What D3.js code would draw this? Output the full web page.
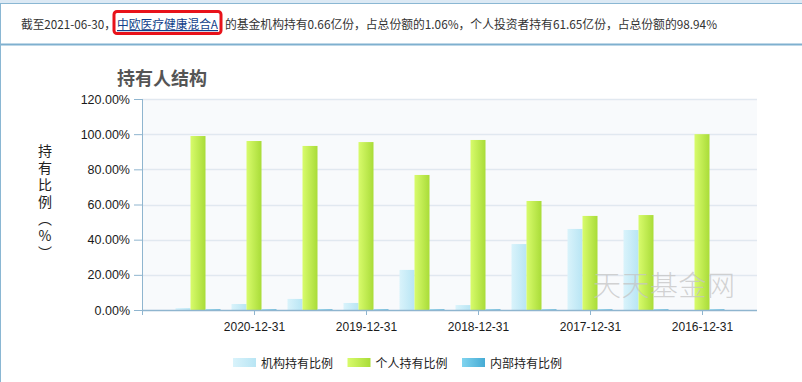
<!DOCTYPE html>
<html><head><meta charset="utf-8">
<script src="https://cdn.jsdelivr.net/npm/d3@7/dist/d3.min.js"></script>
<style>body{margin:0;background:#fff}svg{display:block}</style>
</head><body><svg id="c" width="802" height="382"></svg>
<script>
const dates = ["2021-06-30","2020-12-31","2020-06-30","2019-12-31","2019-06-30","2018-12-31","2018-06-30","2017-12-31","2017-06-30","2016-12-31"];
const tickLabels = ["2020-12-31","2019-12-31","2018-12-31","2017-12-31","2016-12-31"];
const institutional = [1.06, 3.4, 6.3, 4.0, 22.8, 2.8, 37.5, 46.1, 45.5, 0];
const individual = [98.94, 96.1, 93.3, 95.5, 76.8, 96.7, 62.0, 53.5, 54.0, 100];
const internal = [0.4, 0.4, 0.4, 0.4, 0.4, 0.4, 0.4, 0.4, 0.4, 0.4];
const seriesNames = ["机构持有比例", "个人持有比例", "内部持有比例"];
const yTicks = [0, 20, 40, 60, 80, 100, 120];
const headerParts = ["截至2021-06-30，", "中欧医疗健康混合A", "的基金机构持有0.66亿份，占总份额的1.06%，个人投资者持有61.65亿份，占总份额的98.94%"];
const chartTitle = "持有人结构";
const yTitle = "持有比例（%）";
const watermark = "天天基金网";

const svg = d3.select("#c");
const cjk = "'Noto Sans CJK SC', sans-serif";
const latin = "'Liberation Sans', Arial, sans-serif";

// gradients
const defs = svg.append("defs");
const grads = [["g0","#d9f3fb","#b8e5f4"],["g1","#d8fb6c","#a9dc38"],["g2","#80d4ef","#46abd4"]];
grads.forEach(([id,a,b])=>{
  const g = defs.append("linearGradient").attr("id",id).attr("x1","0").attr("x2","1").attr("y1","0").attr("y2","0");
  g.append("stop").attr("offset","0").attr("stop-color",a);
  g.append("stop").attr("offset","1").attr("stop-color",b);
});

// header box
svg.append("rect").attr("x",0).attr("y",0).attr("width",802).attr("height",3.5).attr("fill","#dce9f4");
svg.append("line").attr("x1",0).attr("x2",802).attr("y1",3.5).attr("y2",3.5).attr("stroke","#8ab7d3").attr("stroke-width",1);
svg.append("line").attr("x1",0).attr("x2",802).attr("y1",44.5).attr("y2",44.5).attr("stroke","#7fb0cf").attr("stroke-width",2);
svg.append("line").attr("x1",0.5).attr("x2",0.5).attr("y1",3).attr("y2",382).attr("stroke","#8ab7d3").attr("stroke-width",1);

const hdr = svg.append("g").attr("font-family",cjk).attr("font-size",12).attr("fill","#333");
hdr.append("text").attr("x",21).attr("y",29).attr("textLength",95).attr("lengthAdjust","spacingAndGlyphs").text(headerParts[0]);
hdr.append("text").attr("x",117).attr("y",29).attr("fill","#123f8a").attr("text-decoration","underline")
   .attr("textLength",101).attr("lengthAdjust","spacingAndGlyphs").text(headerParts[1]);
hdr.append("text").attr("x",225).attr("y",29).attr("textLength",492).attr("lengthAdjust","spacingAndGlyphs").text(headerParts[2]);
svg.append("rect").attr("x",114).attr("y",11.5).attr("width",107).attr("height",22).attr("rx",3)
   .attr("fill","none").attr("stroke","#e8121a").attr("stroke-width",3);

// scales
const x = d3.scalePoint().domain(dates).range([142,758]).padding(1);
const y = d3.scaleLinear().domain([0,120]).range([310,99]);
const sub = d3.scaleBand().domain([0,1,2]).range([-22.5,22.5]);

// plot bg
svg.append("rect").attr("x",x.range()[0]).attr("y",y(120)).attr("width",x.range()[1]-x.range()[0]-1).attr("height",y(0)-y(120)).attr("fill","#f8fafc");

// grid
svg.append("g").selectAll("line").data(yTicks.filter(d=>d>0)).join("line")
  .attr("x1",x.range()[0]).attr("x2",x.range()[1]-1)
  .attr("y1",d=>Math.round(y(d))+0.5).attr("y2",d=>Math.round(y(d))+0.5)
  .attr("stroke","#e1e8f0").attr("stroke-width",1.5);

// bars
const series = [institutional, individual, internal];
series.forEach((vals,si)=>{
  svg.append("g").selectAll("rect").data(dates).join("rect")
    .attr("x",(d)=>x(d)+sub(si)).attr("width",sub.bandwidth())
    .attr("y",(d,i)=>y(vals[i])).attr("height",(d,i)=>y(0)-y(vals[i]))
    .attr("fill",`url(#g${si})`);
});

// watermark (on top of bars)
svg.append("text").attr("x",593).attr("y",296).attr("font-family","'Noto Sans CJK SC', serif").attr("font-weight",300)
  .attr("font-size",28).attr("fill","#c4c4c4").attr("fill-opacity",0.75).attr("textLength",142).text(watermark);

// y axis
const yAxis = svg.append("g").attr("transform",`translate(${x.range()[0]},0)`)
  .call(d3.axisLeft(y).tickValues(yTicks).tickFormat(d=>d.toFixed(2)+"%").tickSize(8).tickPadding(4));
yAxis.selectAll("text").attr("font-family",latin).attr("font-size",12.5).attr("fill","#1a1a1a");
yAxis.selectAll("line").attr("stroke","#8fb5cf");
yAxis.select(".domain").attr("stroke","#8fb5cf").attr("d",`M0.5,${y(120)}V${y(0)}`);

// x axis
const xAxis = svg.append("g").attr("transform",`translate(0,${y(0)})`)
  .call(d3.axisBottom(x).tickValues(tickLabels).tickSize(5).tickPadding(7));
xAxis.selectAll("text").attr("font-family",latin).attr("font-size",12).attr("fill","#1a1a1a");
xAxis.selectAll("line").attr("stroke","#8fb5cf");
xAxis.select(".domain").attr("stroke","#8fb5cf").attr("stroke-width",1.5).attr("d",`M${x.range()[0]},0.5H${x.range()[1]-1}`);
xAxis.append("line").attr("x1",x.range()[0]+0.5).attr("x2",x.range()[0]+0.5).attr("y1",0).attr("y2",5).attr("stroke","#8fb5cf");

// title
svg.append("text").attr("x",117).attr("y",85).attr("font-family",cjk).attr("font-weight","bold")
  .attr("font-size",18).attr("fill","#555").text(chartTitle);

// y title (vertical)
svg.append("text").attr("x",45).attr("y",144)
  .style("writing-mode","vertical-rl").style("text-orientation","upright")
  .attr("letter-spacing",3)
  .attr("font-family",cjk).attr("font-size",14).attr("fill","#222").text(yTitle);

// legend
const lg = svg.append("g").selectAll("g").data(seriesNames).join("g")
  .attr("transform",(d,i)=>`translate(${233+i*114.5},358)`);
lg.append("rect").attr("width",23).attr("height",9).attr("fill",(d,i)=>`url(#g${i})`);
lg.append("text").attr("x",28).attr("y",10).attr("font-family",cjk).attr("font-size",12).attr("fill","#222").text(d=>d);
</script></body></html>
